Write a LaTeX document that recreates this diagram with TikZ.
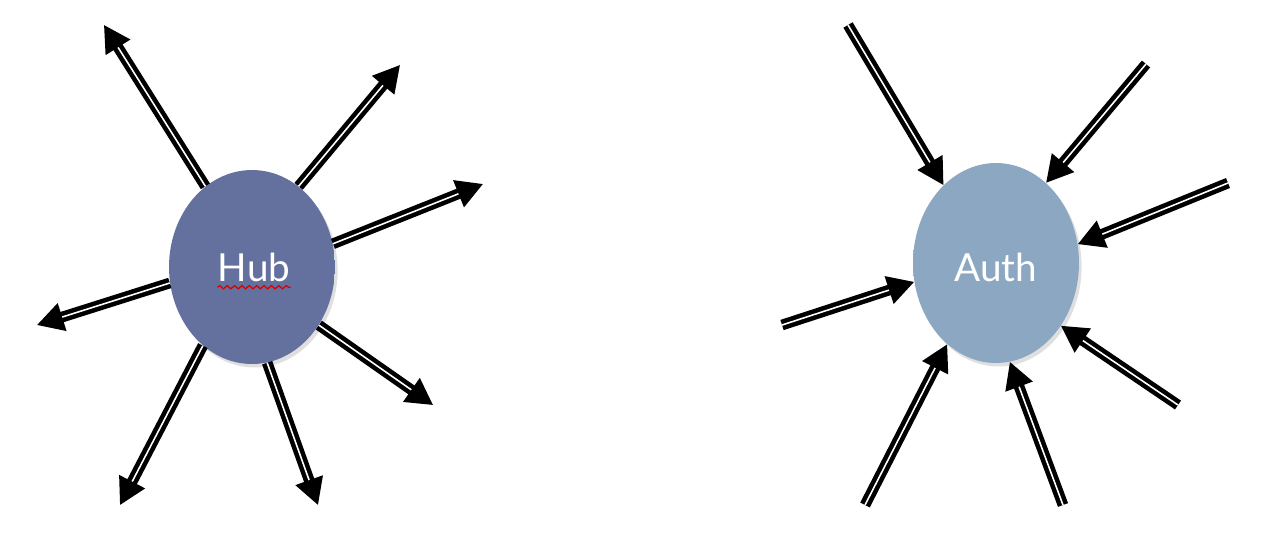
\documentclass[tikz,border=0pt]{standalone}
\usepackage{fontspec}
\setmainfont{Lato}
\usepackage{tikz}
\usetikzlibrary{shapes.geometric, arrows.meta, shadows, decorations.pathmorphing}

\begin{document}
\begin{tikzpicture}[
    x=0.02cm, y=-0.02cm,
    ball/.style     = {ellipse, inner sep=0pt, minimum width=3.32cm,
                       drop shadow={opacity=0.25, shadow xshift=1.5pt, shadow yshift=-2pt}},
    hubball/.style  = {ball, minimum height=3.88cm, shading=axis, left color=hubdark, middle color=hublight, right color=hubdark},
    authball/.style = {ball, minimum height=4.0cm, shading=axis, left color=authdark, middle color=authlight, right color=authdark},
    balltext/.style = {font=\fontsize{22}{24}\selectfont, text=white, inner sep=0pt},
    spoke/.style    = {double=white, double distance=0.9pt, line width=2.6pt, -{Triangle[length=15pt, width=16pt]}},
    squiggle/.style = {red!85!black, line width=0.7pt, decorate, decoration={snake, segment length=4.2pt, amplitude=0.9pt}}
]
\definecolor{hubdark}{RGB}{100,112,158}
\definecolor{hublight}{RGB}{113,125,172}
\definecolor{authdark}{RGB}{140,167,193}
\definecolor{authlight}{RGB}{160,186,208}

\useasboundingbox (0,0) rectangle (1264,542);

% ---- Hub (left) ----
\node[hubball] (hub) at (252,267) {};
\node[balltext] (hublabel) at (254,267) {Hub};
\draw[squiggle] ([yshift=-3.5pt]hublabel.base west) -- ([yshift=-3.5pt]hublabel.base east);

% ---- Hub tips ----
\coordinate (ht1) at (104,25);
\coordinate (ht2) at (400,65);
\coordinate (ht3) at (483,184);
\coordinate (ht4) at (37,325);
\coordinate (ht5) at (433,405);
\coordinate (ht6) at (120,505);
\coordinate (ht7) at (318,505);

% ---- Hub arrows (outgoing) ----
\draw[spoke] (hub.120) -- (ht1);
\draw[spoke] (hub.60)  -- (ht2);
\draw[spoke] (hub.16)  -- (ht3);
\draw[spoke] (hub.191) -- (ht4);
\draw[spoke] (hub.319) -- (ht5);
\draw[spoke] (hub.238) -- (ht6);
\draw[spoke] (hub.279) -- (ht7);

% ---- Auth (right) ----
\node[authball] (auth) at (996,263) {};
\node[balltext] (authlabel) at (996,267) {Auth};

% ---- Auth tails ----
\coordinate (at1) at (848,25);
\coordinate (at2) at (1146,64);
\coordinate (at3) at (1228,183);
\coordinate (at4) at (782,325);
\coordinate (at5) at (1178,405);
\coordinate (at6) at (865,505);
\coordinate (at7) at (1063,505);

% ---- Auth arrows (incoming) ----
\draw[spoke] (at1) -- (auth.124);
\draw[spoke] (at2) -- (auth.58);
\draw[spoke] (at3) -- (auth.13);
\draw[spoke] (at4) -- (auth.193);
\draw[spoke] (at5) -- (auth.316);
\draw[spoke] (at6) -- (auth.239);
\draw[spoke] (at7) -- (auth.278);

\end{tikzpicture}
\end{document}
